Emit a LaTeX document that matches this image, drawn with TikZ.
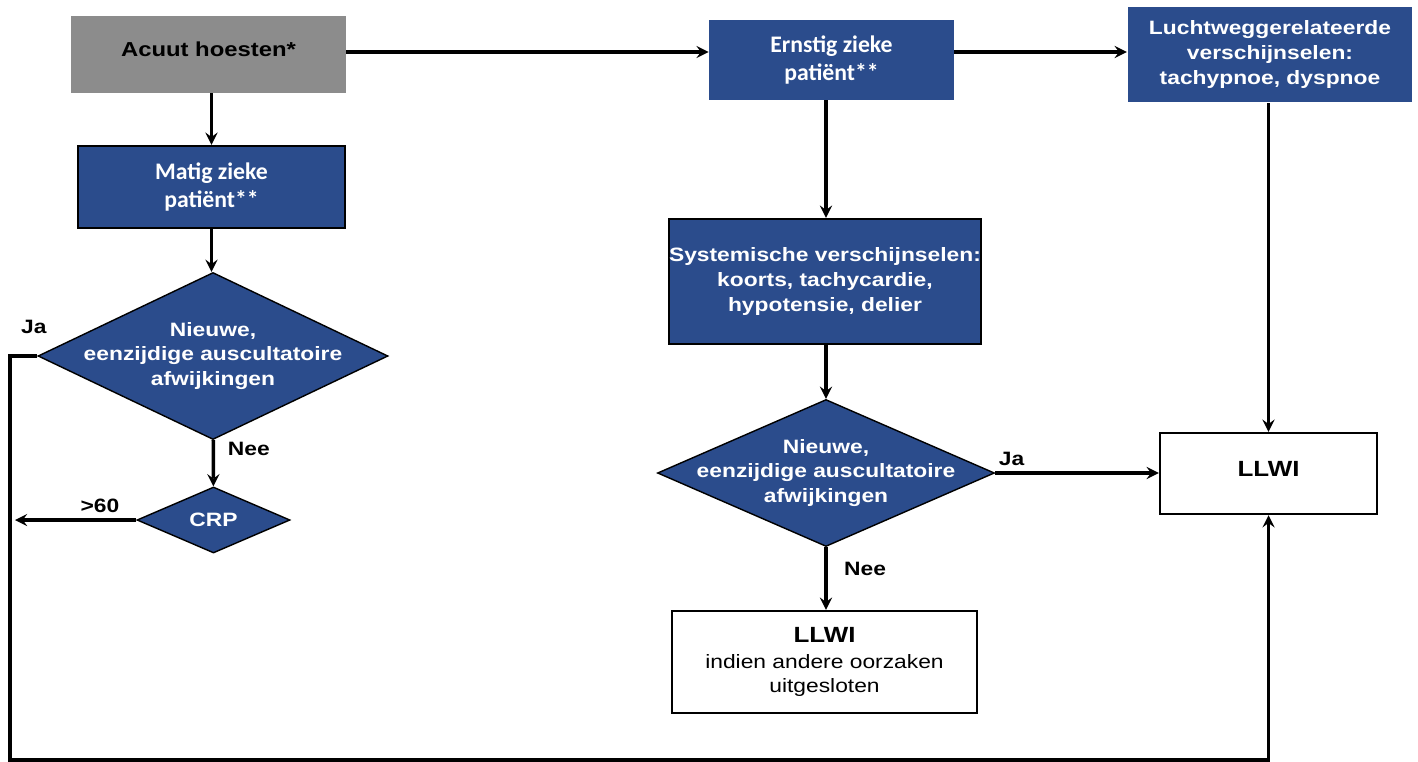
\documentclass[tikz,border=0pt]{standalone}
\usepackage{fontspec}
\setmainfont{Liberation Sans}[FakeStretch=1.18]
\newfontfamily\calfont{Carlito}
\usepackage{tikz}
\usetikzlibrary{shapes.geometric, arrows, positioning, calc}
\definecolor{boxblue}{RGB}{43,76,140}
\definecolor{boxgrey}{RGB}{140,140,140}
\tikzstyle{startbox} = [rectangle, minimum width=5.5cm, minimum height=1.54cm, fill=boxgrey, text=black, font=\fontsize{11.5}{14}\selectfont\bfseries, align=center]
\tikzstyle{process} = [rectangle, fill=boxblue, draw=black, line width=1.4pt, text=white, font=\fontsize{11}{14}\selectfont\bfseries, align=center]
\tikzstyle{calbox} = [rectangle, fill=boxblue, text=white, font=\calfont\fontsize{13.5}{16}\selectfont\bfseries, align=center]
\tikzstyle{decision} = [diamond, fill=boxblue, draw=black, line width=0.8pt, inner sep=0pt]
\tikzstyle{dtext} = [text=white, font=\fontsize{11}{14}\selectfont\bfseries, align=center]
\tikzstyle{result} = [rectangle, fill=white, draw=black, line width=1.4pt, align=center]
\tikzstyle{lbl} = [text=black, font=\fontsize{11}{14}\selectfont\bfseries]
\tikzstyle{arrow} = [line width=2pt,->,>=stealth]

\begin{document}
\begin{tikzpicture}
    \useasboundingbox (0,0) rectangle (28.36,-15.24);
    % left column
    \node (acuut) [startbox] at (4.17,-1.09) {\raisebox{6pt}{Acuut hoesten*}};
    \node (matig) [calbox, draw=black, line width=1.4pt, minimum width=5.34cm, minimum height=1.64cm] at (4.23,-3.74) {Matig zieke\\patiënt**};
    \node (nieuw1) [decision, minimum width=7cm, minimum height=3.34cm,
        label={[dtext]center:{Nieuwe,\\eenzijdige auscultatoire\\afwijkingen}}] at (4.26,-7.12) {};
    \node (crp) [decision, minimum width=3.06cm, minimum height=1.32cm,
        label={[dtext]center:CRP}] at (4.27,-10.4) {};

    % middle column
    \node (ernstig) [calbox, minimum width=4.9cm, minimum height=1.6cm] at (16.63,-1.2) {Ernstig zieke\\patiënt**};
    \node (syst) [process, inner xsep=0pt, minimum width=6.12cm, minimum height=2.5cm] at (16.5,-5.63) {Systemische verschijnselen:\\koorts, tachycardie,\\hypotensie, delier};
    \node (nieuw2) [decision, minimum width=6.74cm, minimum height=2.94cm,
        label={[dtext]center:{Nieuwe,\\eenzijdige auscultatoire\\afwijkingen}}] at (16.52,-9.46) {};
    \node (llwi2) [result, minimum width=6.1cm, minimum height=2.04cm, font=\fontsize{11}{13.5}\selectfont] at (16.49,-13.24)
        {\fontsize{12.5}{16}\selectfont\bfseries LLWI\\[1pt]\fontsize{11}{13.5}\selectfont\mdseries indien andere oorzaken\\uitgesloten};

    % right column
    \node (lucht) [process, draw=none, minimum width=5.68cm, minimum height=1.9cm] at (25.4,-1.09) {Luchtweggerelateerde\\verschijnselen:\\tachypnoe, dyspnoe};
    \node (llwi1) [result, minimum width=4.34cm, minimum height=1.62cm, font=\fontsize{12.5}{16}\selectfont\bfseries] at (25.37,-9.47) {\raisebox{5pt}{LLWI}};

    \coordinate (loopbl) at (0.2,-15.2);
    \coordinate (crpend) at (0.3,-10.4);

    \draw [arrow] (acuut.south -| matig) -- (matig);
    \draw [arrow] (matig) -- (nieuw1.north -| matig);
    \draw [arrow] (nieuw1) -- node[lbl, right, pos=0.2, xshift=4pt] {Nee} (crp);
    \draw [arrow] (crp.west) -- node[lbl, above, pos=0.3] {>60} (crpend);
    \draw [arrow] (nieuw1.west) node[lbl, anchor=south, xshift=-2pt, yshift=0.3cm] {Ja} -| (loopbl) -| (llwi1.south);

    \draw [arrow] (acuut.east |- 0,-1.04) -- (ernstig.west |- 0,-1.04);
    \draw [arrow] (ernstig.east |- 0,-1.04) -- (lucht.west |- 0,-1.04);
    \draw [arrow] (ernstig.south -| nieuw2) -- (syst.north -| nieuw2);
    \draw [arrow] (syst.south -| nieuw2) -- (nieuw2);
    \draw [arrow] (nieuw2) -- node[lbl, right, pos=0.35, xshift=6pt] {Nee} (nieuw2 |- llwi2.north);
    \draw [arrow] (nieuw2.east) -- node[lbl, above, pos=0.1] {Ja} (llwi1.west |- nieuw2.east);
    \draw [arrow] (lucht.south -| llwi1) -- (llwi1);
\end{tikzpicture}
\end{document}
